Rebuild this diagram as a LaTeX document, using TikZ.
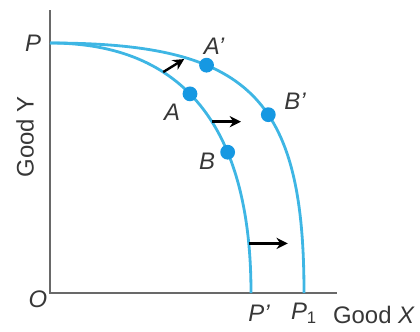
\documentclass[tikz,border=0pt]{standalone}
\usepackage{fontspec}
\setmainfont{Liberation Sans}
\usepackage{xcolor}
\usetikzlibrary{arrows.meta}
\definecolor{curvecol}{RGB}{62,182,228}
\definecolor{dotcol}{RGB}{22,152,226}
\definecolor{axiscol}{RGB}{105,105,105}
\definecolor{labelcol}{RGB}{55,55,55}

\begin{document}
\begin{tikzpicture}[x=0.025cm, y=-0.025cm,
  ppf/.style={draw=curvecol, line width=2pt},
  axis/.style={draw=axiscol, line width=1.5pt},
  pt/.style={circle, fill=dotcol, inner sep=0pt, minimum size=0.37cm},
  lbl/.style={text=labelcol, font=\fontsize{17}{19}\selectfont\itshape},
  ttl/.style={text=labelcol, font=\fontsize{17}{19}\selectfont},
  move/.style={-{Stealth[length=8pt, width=8pt]}, line width=1.7pt, black}
]
  \useasboundingbox (0,0) rectangle (420,331);

  % axes
  \coordinate (O) at (50,293);
  \coordinate (ytop) at (50,10);
  \coordinate (xend) at (337,293);
  \draw[axis] (ytop) -- (O) -- (xend);

  % the two frontiers
  \coordinate (P) at (50,43);
  \coordinate (Pp) at (251,293);
  \coordinate (P1) at (304,293);
  \draw[ppf] (P) .. controls (183.5,43) and (251,127) .. (Pp)
    coordinate[pos=0.34] (s1)
    coordinate[pos=0.56] (s2)
    coordinate[pos=0.895] (s3)
    node[pt, pos=0.45] (A) {}
    node[pt, pos=0.66] (B) {};
  \draw[ppf] (P) .. controls (249,43) and (304,97) .. (P1)
    node[pt, pos=0.34] (Aq) {}
    node[pt, pos=0.58] (Bq) {};

  % outward shift
  \path (s1) ++(21,-13) coordinate (e1);
  \path (s2) ++(29,0) coordinate (e2);
  \path (s3) ++(39,0) coordinate (e3);
  \draw[move] (s1) -- (e1);
  \draw[move] (s2) -- (e2);
  \draw[move] (s3) -- (e3);

  % labels
  \node[lbl] (lP) at (33,43) {P};
  \node[lbl] (lO) at (38,299) {O};
  \node[lbl] (lA) at (172,112) {A};
  \node[lbl] (lB) at (207,161) {B};
  \node[lbl] (lAq) at (214,46) {A'};
  \node[lbl] (lBq) at (295,101) {B'};
  \node[lbl] (lPp) at (259,313) {P'};
  \node[lbl] (lP1) at (304,313) {P\textsubscript{\upshape 1}};
  \node[ttl] (gx) at (374,315) {Good \textit{X}};
  \node[ttl, rotate=90] (gy) at (25,137) {Good Y};
\end{tikzpicture}
\end{document}
